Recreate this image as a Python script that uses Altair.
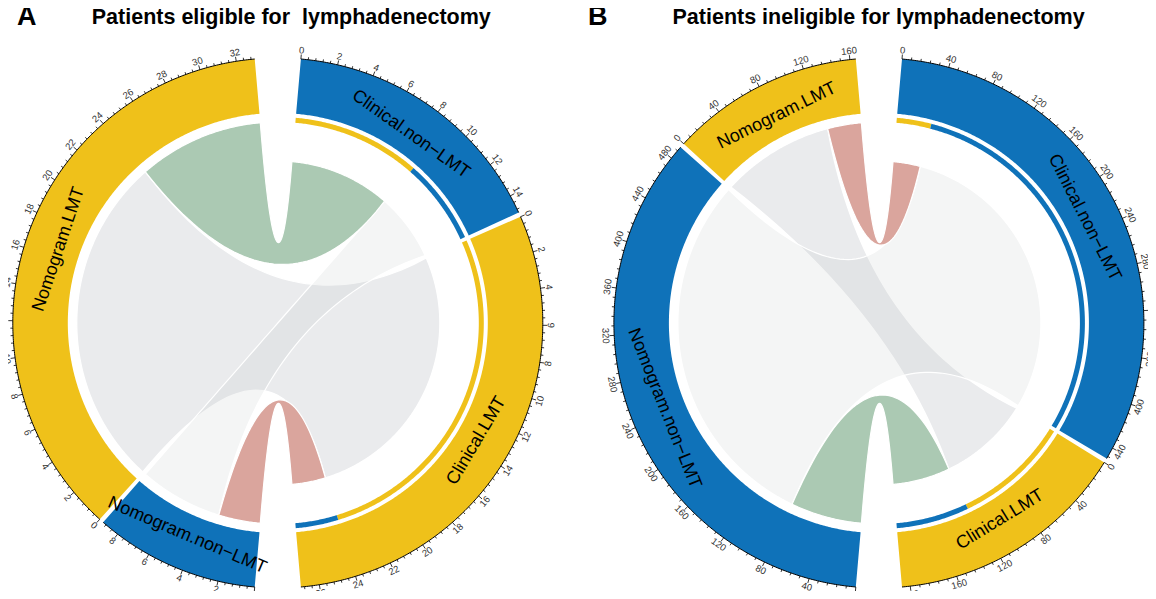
import numpy as np
import altair as alt

# ---------------- data ----------------
panel_letters = ["A", "B"]
panel_titles = ["Patients eligible for \u00a0lymphadenectomy",
                "Patients ineligible for lymphadenectomy"]
row_names = ["Nomogram.LMT", "Nomogram.non\u2212LMT"]      # sources
col_names = ["Clinical.LMT", "Clinical.non\u2212LMT"]      # targets
# flows[i][j]: patients in row i and column j
flows_A = [[24, 9], [3, 6]]
flows_B = [[127, 38], [80, 412]]
link_kind_A = [["gray1", "green"], ["red", "gray2"]]
link_kind_B = [["gray1", "red"], ["green", "gray2"]]
major_steps = [2, 40]
minor_steps = [0.4, 8]

# ---------------- style ----------------
YELLOW = "#EFC11A"
BLUE = "#0F72B9"
sector_color = {row_names[0]: YELLOW, row_names[1]: BLUE,
                col_names[0]: YELLOW, col_names[1]: BLUE}
kind_fill = {"gray1": ("#B9BEC2", 0.30), "gray2": ("#B9BEC2", 0.16),
             "green": ("#ABC9B3", 1.0), "red": ("#DAA59D", 1.0)}
centers = [(277.8, 323.0), (878.9, 323.0)]
R_OUT, R_IN = 265.0, 210.0
BAR_OUT, BAR_IN = 206.0, 201.0
R_SRC, R_TGT = 201.0, 162.0
OFF = 8.0


def pt(cx, cy, r, th):
    t = np.radians(th)
    return [round(cx + r * np.sin(t) - OFF, 2), round(cy - r * np.cos(t) - OFF, 2)]


def arc(cx, cy, r, a0, a1, step=0.4):
    n = max(2, int(abs(a1 - a0) / step) + 2)
    return [pt(cx, cy, r, a) for a in np.linspace(a0, a1, n)]


def bezier(p0, p2, c, n=50):
    t = np.linspace(0, 1, n)[:, None]
    p0, p2, c = np.array(p0), np.array(p2), np.array(c)
    pts = (1 - t) ** 2 * p0 + 2 * (1 - t) * t * c + t ** 2 * p2
    return [[round(x, 2), round(y, 2)] for x, y in pts]


def ctrl(cx, cy, a, b, push=18.0):
    ua = np.array([np.sin(np.radians(a)), -np.cos(np.radians(a))])
    ub = np.array([np.sin(np.radians(b)), -np.cos(np.radians(b))])
    m = ua + ub
    nm = np.linalg.norm(m)
    if nm < 1e-6:
        return [cx - OFF, cy - OFF]
    m = m / nm
    return [cx - OFF - push * m[0], cy - OFF - push * m[1]]


def band(cx, cy, r0, r1, a0, a1):
    ring = arc(cx, cy, r1, a0, a1) + arc(cx, cy, r0, a1, a0)
    ring.append(ring[0])
    return ring


def nice_rot(th):
    th = th % 360
    rot = th - 180 if 90 < th < 270 else th
    return rot % 360


def feat(geom_type, coords, **props):
    return {"type": "Feature", "properties": props,
            "geometry": {"type": geom_type, "coordinates": coords}}


gray_feats, color_feats, band_feats, line_feats = [], [], [], []
tick_labels, name_labels, titles = [], [], []

for p, (flows, kinds) in enumerate([(flows_A, link_kind_A), (flows_B, link_kind_B)]):
    cx, cy = centers[p]
    tot = {row_names[0]: sum(flows[0]), row_names[1]: sum(flows[1]),
           col_names[0]: flows[0][0] + flows[1][0],
           col_names[1]: flows[0][1] + flows[1][1]}
    order = [col_names[1], col_names[0], row_names[1], row_names[0]]
    gaps = [1, 10, 1, 10]
    k = (360 - sum(gaps)) / sum(tot.values())
    sec = {}
    start = 5.0
    for nm, g in zip(order, gaps):
        sec[nm] = (start, start + tot[nm] * k)
        start = sec[nm][1] + g

    # sector bands, axis, ticks, labels
    for nm in order:
        a0, a1 = sec[nm]
        band_feats.append(feat("Polygon", [band(cx, cy, R_IN, R_OUT, a0, a1)],
                               fill=sector_color[nm]))
        line_feats.append(feat("LineString", arc(cx, cy, R_OUT, a0, a1), sw=1.0))
        ms, mn = major_steps[p], minor_steps[p]
        nminor = int(np.floor(tot[nm] / mn + 1e-9))
        for i in range(nminor + 1):
            v = i * mn
            th = a0 + v * k
            is_major = abs(v / ms - round(v / ms)) < 1e-6
            r2 = R_OUT + (4.5 if is_major else 2.5)
            line_feats.append(feat("LineString", [pt(cx, cy, R_OUT, th), pt(cx, cy, r2, th)],
                                   sw=0.8))
            if is_major:
                lon, lat = pt(cx, cy, 273.5, th)
                tick_labels.append({"lon": lon, "lat": lat, "t": str(int(round(v))),
                                    "rot": nice_rot(th)})
        mid = (a0 + a1) / 2
        lon, lat = pt(cx, cy, 231.0, mid)
        name_labels.append({"lon": lon, "lat": lat, "t": nm, "rot": nice_rot(mid)})

    # link positions
    row_pos = {}
    for i in range(2):
        acc = 0
        for j in range(2):
            row_pos[(i, j)] = (acc, acc + flows[i][j])
            acc += flows[i][j]
    col_pos = {}
    for j in range(2):
        acc = 0
        for i in range(2):
            col_pos[(i, j)] = (acc, acc + flows[i][j])
            acc += flows[i][j]

    for i in range(2):
        for j in range(2):
            s0, s1 = row_pos[(i, j)]
            t0, t1 = col_pos[(i, j)]
            rs0, _ = sec[row_names[i]]
            cs0, _ = sec[col_names[j]]
            a1, a2 = rs0 + s0 * k, rs0 + s1 * k
            b1, b2 = cs0 + t0 * k, cs0 + t1 * k
            ring = arc(cx, cy, R_SRC, a1, a2)
            ring += bezier(pt(cx, cy, R_SRC, a2), pt(cx, cy, R_TGT, b1), ctrl(cx, cy, a2, b1))[1:-1]
            ring += arc(cx, cy, R_TGT, b1, b2)
            ring += bezier(pt(cx, cy, R_TGT, b2), pt(cx, cy, R_SRC, a1), ctrl(cx, cy, b2, a1))[1:-1]
            ring.append(ring[0])
            fill, op = kind_fill[kinds[i][j]]
            f = feat("Polygon", [ring], fill=fill, op=op, kind=kinds[i][j])
            if kinds[i][j].startswith("gray"):
                gray_feats.append(f)
            else:
                color_feats.append(f)
            # target proportion bar, coloured by the source sector
            band_feats.append(feat("Polygon", [band(cx, cy, BAR_IN, BAR_OUT, b1, b2)],
                                   fill=sector_color[row_names[i]]))

    titles.append({"lon": [9, 580][p], "lat": 25 - OFF, "t": panel_letters[p], "fs": 27,
                   "al": "left"})
    titles.append({"lon": [291.3, 878.6][p] - OFF, "lat": 24 - OFF, "t": panel_titles[p],
                   "fs": 21.5, "al": "center"})

gray_feats.sort(key=lambda f: f["properties"]["kind"])
chord_feats = gray_feats + color_feats

proj = dict(type="identity", scale=1, translate=[0, 0])

chords = alt.Chart(alt.Data(values=chord_feats)).mark_geoshape(
    stroke="white", strokeWidth=1.2).encode(
    fill=alt.Fill("properties.fill:N", scale=None),
    fillOpacity=alt.FillOpacity("properties.op:Q", scale=None)).project(**proj)

bands = alt.Chart(alt.Data(values=band_feats)).mark_geoshape(strokeWidth=0).encode(
    fill=alt.Fill("properties.fill:N", scale=None)).project(**proj)

lines = alt.Chart(alt.Data(values=line_feats)).mark_geoshape(
    filled=False, stroke="black").encode(
    strokeWidth=alt.StrokeWidth("properties.sw:Q", scale=None)).project(**proj)

ticks_txt = alt.Chart(alt.Data(values=tick_labels)).mark_text(
    font="Liberation Sans", fontSize=9.5, color="#333333", align="center",
    baseline="middle").encode(
    longitude="lon:Q", latitude="lat:Q", text="t:N",
    angle=alt.Angle("rot:Q", scale=None)).project(**proj)

names_txt = alt.Chart(alt.Data(values=name_labels)).mark_text(
    font="Liberation Sans", fontSize=18, color="black", align="center",
    baseline="middle").encode(
    longitude="lon:Q", latitude="lat:Q", text="t:N",
    angle=alt.Angle("rot:Q", scale=None)).project(**proj)

title_center = alt.Chart(alt.Data(values=[t for t in titles if t["al"] == "center"])).mark_text(
    font="Liberation Sans", fontWeight="bold", color="black", align="center",
    baseline="alphabetic").encode(
    longitude="lon:Q", latitude="lat:Q", text="t:N",
    size=alt.Size("fs:Q", scale=None)).project(**proj)

title_left = alt.Chart(alt.Data(values=[t for t in titles if t["al"] == "left"])).mark_text(
    font="Liberation Sans", fontWeight="bold", color="black", align="left",
    baseline="alphabetic").encode(
    longitude="lon:Q", latitude="lat:Q", text="t:N",
    size=alt.Size("fs:Q", scale=None)).project(**proj)

chart = alt.layer(chords, bands, lines, ticks_txt, names_txt, title_center, title_left).properties(
    width=1140, height=583, padding=0, autosize="none").configure_view(stroke=None)

chart.save("out.html", embed_options={"renderer": "svg", "actions": False})
